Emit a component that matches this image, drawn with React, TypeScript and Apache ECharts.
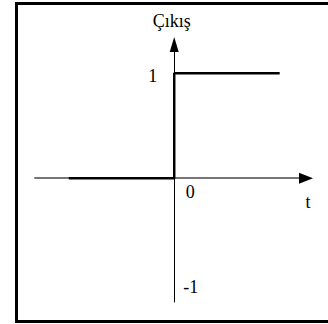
import React, { useEffect, useRef } from 'react';
import * as echarts from 'echarts';

// Unit step signal: output = 0 for t < 0, 1 for t >= 0
const tValues = [-1, 0, 0, 1];
const outputValues = [0, 0, 1, 1];
const yTickValues = [1, -1];
const yTickLabels = ['1', '-1'];
const originLabel = '0';
const xAxisName = 't';
const yAxisName = 'Çıkış';

const X_MIN = -1.32;
const X_MAX = 1.24;
const Y_MIN = -1.18;
const Y_MAX = 1.27;

const FONT = '"Liberation Serif", "Times New Roman", serif';

export default function App() {
  const ref = useRef<HTMLDivElement>(null);

  useEffect(() => {
    if (!ref.current) return;
    const chart = echarts.init(ref.current, null, { renderer: 'svg' });
    chart.setOption({
      animation: false,
      backgroundColor: '#fff',
      grid: { left: 35, right: 23, top: 45, bottom: 22 },
      xAxis: {
        type: 'value',
        min: X_MIN,
        max: X_MAX,
        axisLine: { onZero: true, lineStyle: { color: '#777', width: 2 } },
        axisTick: { show: false },
        axisLabel: { show: false },
        splitLine: { show: false },
      },
      yAxis: {
        type: 'value',
        min: Y_MIN,
        max: Y_MAX,
        axisLine: { onZero: true, lineStyle: { color: '#000', width: 1 } },
        axisTick: { show: false },
        axisLabel: { show: false },
        splitLine: { show: false },
      },
      series: [
        {
          type: 'line',
          data: tValues.map((t, i) => [t, outputValues[i]]),
          symbol: 'none',
          lineStyle: { color: '#000', width: 2.5 },
          z: 5,
        },
      ],
    });

    const px = (x: number, y: number) => chart.convertToPixel({ gridIndex: 0 }, [x, y]) as number[];
    const o = px(0, 0);
    const xEnd = px(X_MAX, 0);
    const yEnd = px(0, Y_MAX);
    const tickPts = yTickValues.map((v) => px(0, v));

    const textStyle = (text: string, align: string) => ({
      text,
      fontFamily: FONT,
      fontSize: 18,
      fill: '#000',
      align,
      verticalAlign: 'middle',
    });

    chart.setOption({
      graphic: [
        {
          type: 'rect',
          shape: { x: 16.5, y: 3.5, width: 400, height: 318 },
          style: { fill: 'none', stroke: '#000', lineWidth: 3 },
        },
        {
          type: 'polygon',
          shape: {
            points: [
              [xEnd[0] + 8, o[1]],
              [xEnd[0] - 6, o[1] - 5.5],
              [xEnd[0] - 6, o[1] + 5.5],
            ],
          },
          style: { fill: '#000' },
          z: 10,
        },
        {
          type: 'polygon',
          shape: {
            points: [
              [o[0], yEnd[1] - 8],
              [o[0] - 4.5, yEnd[1] + 7],
              [o[0] + 4.5, yEnd[1] + 7],
            ],
          },
          style: { fill: '#000' },
          z: 10,
        },
        {
          type: 'text',
          x: tickPts[0][0] - 17,
          y: tickPts[0][1] + 3,
          style: textStyle(yTickLabels[0], 'right'),
        },
        {
          type: 'text',
          x: tickPts[1][0] + 9,
          y: tickPts[1][1] + 3.5,
          style: textStyle(yTickLabels[1], 'left'),
        },
        {
          type: 'text',
          x: o[0] + 16,
          y: o[1] + 14,
          style: textStyle(originLabel, 'center'),
        },
        {
          type: 'text',
          x: xEnd[0] + 3,
          y: o[1] + 24,
          style: textStyle(xAxisName, 'center'),
        },
        {
          type: 'text',
          x: o[0] - 2.5,
          y: yEnd[1] - 24,
          style: textStyle(yAxisName, 'center'),
        },
      ],
    });

    return () => chart.dispose();
  }, []);

  return (
    <div
      ref={ref}
      style={{ position: 'fixed', left: 0, top: 0, width: 328, height: 324 }}
    />
  );
}
